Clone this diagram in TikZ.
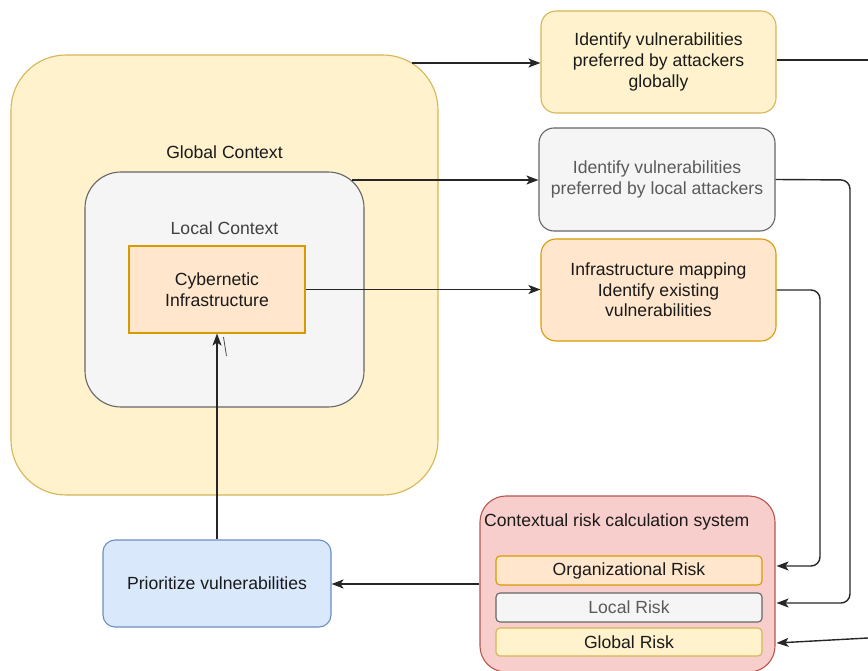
\documentclass[tikz,border=0pt]{standalone}
\usepackage{fontspec}
\setmainfont{Liberation Sans}
\usetikzlibrary{arrows.meta}
\definecolor{ylwF}{HTML}{FFF2CC}\definecolor{ylwD}{HTML}{D6B656}
\definecolor{grF}{HTML}{F5F5F5}\definecolor{grD}{HTML}{666666}
\definecolor{orF}{HTML}{FFE6CC}\definecolor{orD}{HTML}{D79B00}
\definecolor{rdF}{HTML}{F8CECC}\definecolor{rdD}{HTML}{B85450}
\definecolor{blF}{HTML}{DAE8FC}\definecolor{blD}{HTML}{6C8EBF}
\definecolor{txt}{HTML}{1A1A1A}\definecolor{gtxt}{HTML}{5A5A5A}
\tikzset{
  base/.style={draw, line width=1.1pt, align=center, inner sep=0pt, text=txt,
    font=\fontsize{17.6}{20.6}\selectfont},
  ylw/.style={base, fill=ylwF, draw=ylwD},
  gry/.style={base, fill=grF, draw=grD, text=gtxt},
  org/.style={base, fill=orF, draw=orD},
  rd/.style={base, fill=rdF, draw=rdD},
  blu/.style={base, fill=blF, draw=blD},
  lbl/.style={inner sep=0pt, text=txt, font=\fontsize{17.6}{20.6}\selectfont},
  conn/.style={line width=1.4pt, draw=black!85, -{Stealth[length=12pt,width=9pt,inset=3pt]}},
  plainln/.style={line width=1.4pt, draw=black!85}
}
\begin{document}
\begin{tikzpicture}[x=1pt,y=-1pt]
\useasboundingbox (0,0) rectangle (868,671);
% containers
\node[ylw, minimum width=427pt, minimum height=440pt, rounded corners=55pt] (glob) at (224.5,275) {};
\node[lbl] (globt) at (224.5,152) {Global Context};
\node[gry, minimum width=279pt, minimum height=235pt, rounded corners=36pt] (loc) at (224.5,289.5) {};
\node[lbl, text=black!75] (loct) at (224.5,228) {Local Context};
\node[org, minimum width=176pt, minimum height=87pt] (cyb) at (217,289.5) {Cybernetic\\Infrastructure};
% right boxes
\node[ylw, minimum width=235pt, minimum height=102pt, rounded corners=15pt] (A) at (658.5,62) {Identify vulnerabilities\\preferred by attackers\\globally};
\node[gry, minimum width=236pt, minimum height=103pt, rounded corners=15pt] (B) at (657,179.5) {Identify vulnerabilities\\preferred by local attackers};
\node[org, minimum width=235pt, minimum height=102pt, rounded corners=15pt] (C) at (658.5,290) {Infrastructure mapping\\Identify existing\\vulnerabilities};
% risk system
\node[rd, minimum width=295pt, minimum height=176pt, rounded corners=26pt] (red) at (627.5,584) {};
\node[lbl, anchor=west] (redt) at (484,522) {Contextual risk calculation system};
\node[org, minimum width=266pt, minimum height=29pt, rounded corners=4pt] (orisk) at (629,570.5) {Organizational Risk};
\node[gry, minimum width=266pt, minimum height=29pt, rounded corners=4pt] (lrisk) at (629,607.5) {Local Risk};
\node[ylw, minimum width=266pt, minimum height=28pt, rounded corners=4pt] (grisk) at (629,642) {Global Risk};
\node[blu, minimum width=228pt, minimum height=87pt, rounded corners=12pt] (prio) at (217,583.5) {Prioritize vulnerabilities};
% connectors
\coordinate (g1) at (412,63);
\coordinate (l1) at (352,180);
\coordinate (aout) at (868,60);
\coordinate (gin) at (868,638);
\draw[conn] (g1) -- (A.west |- g1);
\draw[conn] (l1) -- (B.west |- l1);
\draw[conn] (cyb.east) -- (C.west |- cyb.east);
\draw[plainln] (A.east |- aout) -- (aout);
\draw[conn, rounded corners=9pt] (C.east) -- (820,290) -- (820,566) -- ([xshift=1pt]red.east |- 0,566);
\draw[conn, rounded corners=9pt] (B.east) -- (850,180) -- (850,603) -- ([xshift=1pt]red.east |- 0,603);
\draw[conn] (gin) -- ([xshift=1pt]red.east |- 0,643);
\draw[conn] (red.west |- 0,584) -- (prio.east |- 0,584);
\draw[conn] (prio.north) -- (cyb.south);
\coordinate (m1) at (223.5,337);
\coordinate (m2) at (226.5,356);
\draw[line width=0.8pt, black!70] (m1) -- (m2);
\end{tikzpicture}
\end{document}
